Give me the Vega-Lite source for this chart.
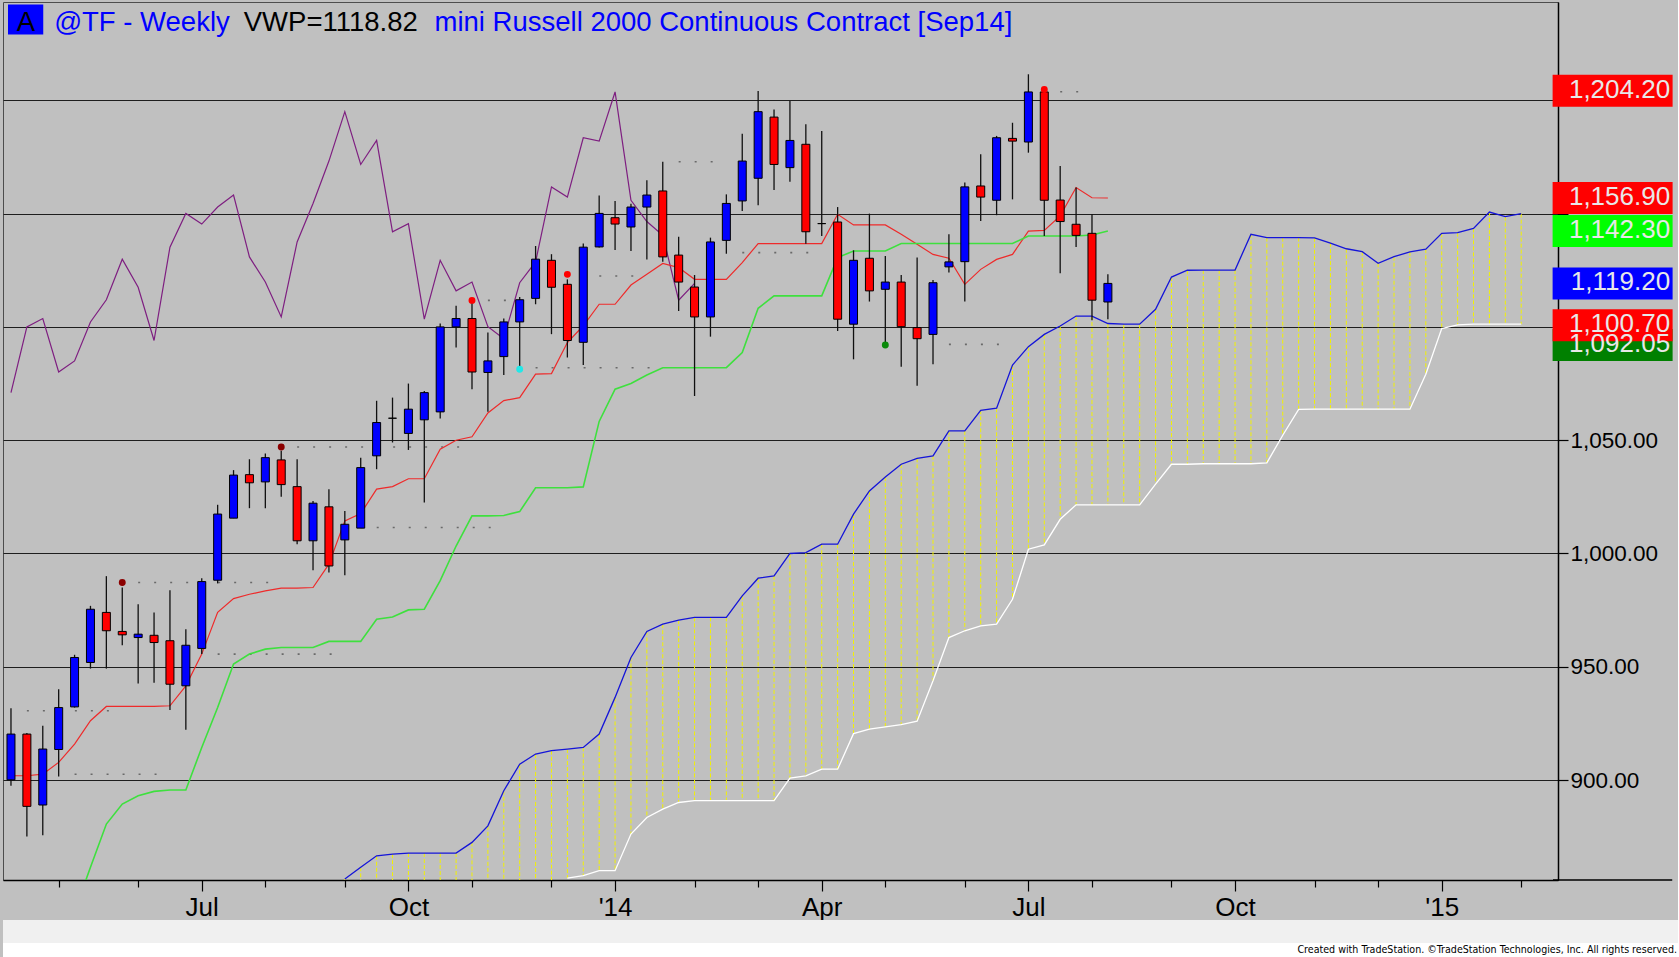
{
  "$schema": "https://vega.github.io/schema/vega-lite/v6.json",
  "background": "#C0C0C0",
  "padding": {"left": 2, "top": 1, "right": 0, "bottom": 0},
  "bounds": "flush",
  "spacing": 40,
  "config": {
    "font": "Liberation Sans",
    "view": {"stroke": null},
    "axis": {"labelFont": "Liberation Sans", "titleFont": "Liberation Sans"},
    "text": {"font": "Liberation Sans"}
  },
  "datasets": {
    "bars": [
      {"date": "2013-04-12", "open": 900.1, "high": 931.7, "low": 897.5, "close": 920.3},
      {"date": "2013-04-19", "open": 920.3, "high": 920.8, "low": 875.1, "close": 888.4},
      {"date": "2013-04-26", "open": 889.0, "high": 924.0, "low": 875.7, "close": 913.7},
      {"date": "2013-05-03", "open": 913.5, "high": 940.1, "low": 901.6, "close": 932.0},
      {"date": "2013-05-10", "open": 932.3, "high": 955.3, "low": 932.0, "close": 954.1},
      {"date": "2013-05-17", "open": 951.9, "high": 976.9, "low": 949.2, "close": 975.4},
      {"date": "2013-05-24", "open": 974.0, "high": 990.0, "low": 949.2, "close": 965.9},
      {"date": "2013-05-31", "open": 965.6, "high": 985.0, "low": 959.5, "close": 964.1},
      {"date": "2013-06-07", "open": 962.9, "high": 977.6, "low": 942.6, "close": 964.4},
      {"date": "2013-06-14", "open": 963.9, "high": 974.0, "low": 942.9, "close": 960.7},
      {"date": "2013-06-21", "open": 961.5, "high": 983.8, "low": 930.9, "close": 942.3},
      {"date": "2013-06-28", "open": 941.6, "high": 966.6, "low": 922.2, "close": 959.5},
      {"date": "2013-07-05", "open": 958.1, "high": 989.1, "low": 955.6, "close": 987.6},
      {"date": "2013-07-12", "open": 988.2, "high": 1021.5, "low": 986.8, "close": 1017.4},
      {"date": "2013-07-19", "open": 1015.6, "high": 1036.8, "low": 1015.6, "close": 1034.6},
      {"date": "2013-07-26", "open": 1034.8, "high": 1041.6, "low": 1020.0, "close": 1031.2},
      {"date": "2013-08-02", "open": 1031.6, "high": 1044.1, "low": 1020.0, "close": 1042.3},
      {"date": "2013-08-09", "open": 1041.3, "high": 1045.3, "low": 1025.0, "close": 1030.4},
      {"date": "2013-08-16", "open": 1029.5, "high": 1041.6, "low": 1004.1, "close": 1005.6},
      {"date": "2013-08-23", "open": 1005.6, "high": 1023.2, "low": 992.6, "close": 1022.2},
      {"date": "2013-08-30", "open": 1020.6, "high": 1028.4, "low": 991.6, "close": 994.5},
      {"date": "2013-09-06", "open": 1006.0, "high": 1018.8, "low": 990.4, "close": 1012.9},
      {"date": "2013-09-13", "open": 1011.2, "high": 1042.3, "low": 1011.2, "close": 1037.9},
      {"date": "2013-09-20", "open": 1043.1, "high": 1067.4, "low": 1037.2, "close": 1057.8},
      {"date": "2013-09-27", "open": 1059.7, "high": 1068.8, "low": 1049.0, "close": 1059.7},
      {"date": "2013-10-04", "open": 1053.0, "high": 1075.0, "low": 1045.7, "close": 1063.7},
      {"date": "2013-10-11", "open": 1059.0, "high": 1071.7, "low": 1022.5, "close": 1071.0},
      {"date": "2013-10-18", "open": 1062.5, "high": 1101.5, "low": 1059.6, "close": 1100.0},
      {"date": "2013-10-25", "open": 1100.0, "high": 1109.3, "low": 1090.9, "close": 1103.7},
      {"date": "2013-11-01", "open": 1103.7, "high": 1110.7, "low": 1072.5, "close": 1080.1},
      {"date": "2013-11-08", "open": 1079.9, "high": 1097.5, "low": 1062.6, "close": 1085.0},
      {"date": "2013-11-15", "open": 1086.9, "high": 1103.7, "low": 1078.8, "close": 1102.2},
      {"date": "2013-11-22", "open": 1102.2, "high": 1113.2, "low": 1082.5, "close": 1112.0},
      {"date": "2013-11-29", "open": 1112.6, "high": 1135.7, "low": 1110.0, "close": 1129.9},
      {"date": "2013-12-06", "open": 1129.4, "high": 1132.1, "low": 1096.8, "close": 1117.5},
      {"date": "2013-12-13", "open": 1118.8, "high": 1121.0, "low": 1086.5, "close": 1094.0},
      {"date": "2013-12-20", "open": 1093.2, "high": 1136.8, "low": 1083.2, "close": 1135.2},
      {"date": "2013-12-27", "open": 1135.3, "high": 1158.0, "low": 1135.0, "close": 1150.1},
      {"date": "2014-01-03", "open": 1148.2, "high": 1155.6, "low": 1134.0, "close": 1145.4},
      {"date": "2014-01-10", "open": 1144.1, "high": 1154.4, "low": 1133.5, "close": 1152.9},
      {"date": "2014-01-17", "open": 1152.9, "high": 1164.7, "low": 1129.8, "close": 1158.2},
      {"date": "2014-01-24", "open": 1160.0, "high": 1172.9, "low": 1128.8, "close": 1130.9},
      {"date": "2014-01-31", "open": 1131.7, "high": 1139.8, "low": 1107.0, "close": 1119.8},
      {"date": "2014-02-07", "open": 1117.6, "high": 1122.9, "low": 1069.5, "close": 1104.4},
      {"date": "2014-02-14", "open": 1104.4, "high": 1139.4, "low": 1095.7, "close": 1137.5},
      {"date": "2014-02-21", "open": 1138.2, "high": 1158.5, "low": 1132.3, "close": 1154.5},
      {"date": "2014-02-28", "open": 1155.6, "high": 1185.3, "low": 1151.2, "close": 1173.2},
      {"date": "2014-03-07", "open": 1165.6, "high": 1204.1, "low": 1153.7, "close": 1195.0},
      {"date": "2014-03-14", "open": 1192.6, "high": 1196.0, "low": 1160.4, "close": 1171.7},
      {"date": "2014-03-21", "open": 1170.3, "high": 1199.7, "low": 1164.1, "close": 1182.3},
      {"date": "2014-03-28", "open": 1180.6, "high": 1189.4, "low": 1136.7, "close": 1142.0},
      {"date": "2014-04-04", "open": 1145.6, "high": 1186.5, "low": 1140.1, "close": 1145.6},
      {"date": "2014-04-11", "open": 1146.3, "high": 1152.9, "low": 1098.2, "close": 1103.4},
      {"date": "2014-04-18", "open": 1101.2, "high": 1133.8, "low": 1085.7, "close": 1129.4},
      {"date": "2014-04-25", "open": 1130.3, "high": 1150.0, "low": 1111.2, "close": 1115.9},
      {"date": "2014-05-02", "open": 1116.6, "high": 1131.3, "low": 1093.1, "close": 1119.8},
      {"date": "2014-05-09", "open": 1119.8, "high": 1122.9, "low": 1082.4, "close": 1100.1},
      {"date": "2014-05-16", "open": 1099.7, "high": 1130.6, "low": 1074.0, "close": 1094.8},
      {"date": "2014-05-23", "open": 1096.7, "high": 1120.7, "low": 1083.5, "close": 1119.5},
      {"date": "2014-05-30", "open": 1126.5, "high": 1140.9, "low": 1124.0, "close": 1128.7},
      {"date": "2014-06-06", "open": 1128.8, "high": 1163.7, "low": 1111.2, "close": 1161.8},
      {"date": "2014-06-13", "open": 1162.2, "high": 1176.2, "low": 1146.8, "close": 1157.3},
      {"date": "2014-06-20", "open": 1155.9, "high": 1184.3, "low": 1149.3, "close": 1183.5},
      {"date": "2014-06-27", "open": 1183.2, "high": 1190.1, "low": 1156.3, "close": 1182.0},
      {"date": "2014-07-04", "open": 1181.6, "high": 1211.5, "low": 1176.9, "close": 1203.7},
      {"date": "2014-07-11", "open": 1203.7, "high": 1204.8, "low": 1140.1, "close": 1155.9},
      {"date": "2014-07-18", "open": 1156.0, "high": 1171.0, "low": 1123.7, "close": 1146.5},
      {"date": "2014-07-25", "open": 1145.3, "high": 1161.5, "low": 1135.3, "close": 1140.4},
      {"date": "2014-08-01", "open": 1141.3, "high": 1149.7, "low": 1102.9, "close": 1111.8},
      {"date": "2014-08-08", "open": 1111.0, "high": 1123.2, "low": 1103.4, "close": 1119.2}
    ],
    "lagging": [
      {"date": "2013-04-12", "lag": 1071.0}, {"date": "2013-04-19", "lag": 1100.0},
      {"date": "2013-04-26", "lag": 1103.7}, {"date": "2013-05-03", "lag": 1080.1},
      {"date": "2013-05-10", "lag": 1085.0}, {"date": "2013-05-17", "lag": 1102.2},
      {"date": "2013-05-24", "lag": 1112.0}, {"date": "2013-05-31", "lag": 1129.9},
      {"date": "2013-06-07", "lag": 1117.5}, {"date": "2013-06-14", "lag": 1094.0},
      {"date": "2013-06-21", "lag": 1135.2}, {"date": "2013-06-28", "lag": 1150.1},
      {"date": "2013-07-05", "lag": 1145.4}, {"date": "2013-07-12", "lag": 1152.9},
      {"date": "2013-07-19", "lag": 1158.2}, {"date": "2013-07-26", "lag": 1130.9},
      {"date": "2013-08-02", "lag": 1119.8}, {"date": "2013-08-09", "lag": 1104.4},
      {"date": "2013-08-16", "lag": 1137.5}, {"date": "2013-08-23", "lag": 1154.5},
      {"date": "2013-08-30", "lag": 1173.2}, {"date": "2013-09-06", "lag": 1195.0},
      {"date": "2013-09-13", "lag": 1171.7}, {"date": "2013-09-20", "lag": 1182.3},
      {"date": "2013-09-27", "lag": 1142.0}, {"date": "2013-10-04", "lag": 1145.6},
      {"date": "2013-10-11", "lag": 1103.4}, {"date": "2013-10-18", "lag": 1129.4},
      {"date": "2013-10-25", "lag": 1115.9}, {"date": "2013-11-01", "lag": 1119.8},
      {"date": "2013-11-08", "lag": 1100.1}, {"date": "2013-11-15", "lag": 1094.8},
      {"date": "2013-11-22", "lag": 1119.5}, {"date": "2013-11-29", "lag": 1128.7},
      {"date": "2013-12-06", "lag": 1161.8}, {"date": "2013-12-13", "lag": 1157.3},
      {"date": "2013-12-20", "lag": 1183.5}, {"date": "2013-12-27", "lag": 1182.0},
      {"date": "2014-01-03", "lag": 1203.7}, {"date": "2014-01-10", "lag": 1155.9},
      {"date": "2014-01-17", "lag": 1146.5}, {"date": "2014-01-24", "lag": 1140.4},
      {"date": "2014-01-31", "lag": 1111.8}, {"date": "2014-02-07", "lag": 1119.2}
    ],
    "lines": [
      {"date": "2013-04-12", "tenkan": 901.9}, {"date": "2013-04-19", "tenkan": 901.9},
      {"date": "2013-04-26", "tenkan": 902.6}, {"date": "2013-05-03", "tenkan": 907.8},
      {"date": "2013-05-10", "tenkan": 915.9, "kijun": 842.0},
      {"date": "2013-05-17", "tenkan": 926.2, "kijun": 861.5},
      {"date": "2013-05-24", "tenkan": 932.5, "kijun": 880.6},
      {"date": "2013-05-31", "tenkan": 932.5, "kijun": 889.4},
      {"date": "2013-06-07", "tenkan": 932.5, "kijun": 893.1},
      {"date": "2013-06-14", "tenkan": 932.5, "kijun": 895.0},
      {"date": "2013-06-21", "tenkan": 932.8, "kijun": 895.6},
      {"date": "2013-06-28", "tenkan": 941.6, "kijun": 895.6},
      {"date": "2013-07-05", "tenkan": 955.6, "kijun": 914.4},
      {"date": "2013-07-12", "tenkan": 974.0, "kijun": 932.0},
      {"date": "2013-07-19", "tenkan": 980.1, "kijun": 951.2},
      {"date": "2013-07-26", "tenkan": 982.0, "kijun": 955.6},
      {"date": "2013-08-02", "tenkan": 983.5, "kijun": 957.8},
      {"date": "2013-08-09", "tenkan": 984.7, "kijun": 958.5},
      {"date": "2013-08-16", "tenkan": 984.7, "kijun": 958.5},
      {"date": "2013-08-23", "tenkan": 985.0, "kijun": 958.5},
      {"date": "2013-08-30", "tenkan": 995.3, "kijun": 961.2},
      {"date": "2013-09-06", "tenkan": 1014.4, "kijun": 961.2},
      {"date": "2013-09-13", "tenkan": 1017.6, "kijun": 961.2},
      {"date": "2013-09-20", "tenkan": 1028.4, "kijun": 971.0},
      {"date": "2013-09-27", "tenkan": 1029.5, "kijun": 972.0},
      {"date": "2013-10-04", "tenkan": 1033.0, "kijun": 975.1},
      {"date": "2013-10-11", "tenkan": 1033.0, "kijun": 975.4},
      {"date": "2013-10-18", "tenkan": 1046.0, "kijun": 988.0},
      {"date": "2013-10-25", "tenkan": 1050.0, "kijun": 1003.3},
      {"date": "2013-11-01", "tenkan": 1051.5, "kijun": 1016.6},
      {"date": "2013-11-08", "tenkan": 1062.0, "kijun": 1016.6},
      {"date": "2013-11-15", "tenkan": 1067.5, "kijun": 1016.8},
      {"date": "2013-11-22", "tenkan": 1068.8, "kijun": 1018.5},
      {"date": "2013-11-29", "tenkan": 1079.2, "kijun": 1029.0},
      {"date": "2013-12-06", "tenkan": 1079.4, "kijun": 1029.0},
      {"date": "2013-12-13", "tenkan": 1093.1, "kijun": 1029.0},
      {"date": "2013-12-20", "tenkan": 1100.5, "kijun": 1029.4},
      {"date": "2013-12-27", "tenkan": 1110.0, "kijun": 1058.3},
      {"date": "2014-01-03", "tenkan": 1110.0, "kijun": 1072.5},
      {"date": "2014-01-10", "tenkan": 1118.5, "kijun": 1075.0},
      {"date": "2014-01-17", "tenkan": 1123.2, "kijun": 1078.8},
      {"date": "2014-01-24", "tenkan": 1128.0, "kijun": 1082.0},
      {"date": "2014-01-31", "tenkan": 1126.2, "kijun": 1082.0},
      {"date": "2014-02-07", "tenkan": 1121.0, "kijun": 1082.0},
      {"date": "2014-02-14", "tenkan": 1121.0, "kijun": 1082.0},
      {"date": "2014-02-21", "tenkan": 1121.0, "kijun": 1082.0},
      {"date": "2014-02-28", "tenkan": 1128.4, "kijun": 1088.7},
      {"date": "2014-03-07", "tenkan": 1136.8, "kijun": 1108.2},
      {"date": "2014-03-14", "tenkan": 1136.8, "kijun": 1113.7},
      {"date": "2014-03-21", "tenkan": 1136.8, "kijun": 1113.7},
      {"date": "2014-03-28", "tenkan": 1136.8, "kijun": 1113.7},
      {"date": "2014-04-04", "tenkan": 1136.8, "kijun": 1113.7},
      {"date": "2014-04-11", "tenkan": 1149.7, "kijun": 1130.6},
      {"date": "2014-04-18", "tenkan": 1145.0, "kijun": 1133.5},
      {"date": "2014-04-25", "tenkan": 1145.0, "kijun": 1133.5},
      {"date": "2014-05-02", "tenkan": 1145.0, "kijun": 1133.5},
      {"date": "2014-05-09", "tenkan": 1140.9, "kijun": 1136.8},
      {"date": "2014-05-16", "tenkan": 1136.5, "kijun": 1136.8},
      {"date": "2014-05-23", "tenkan": 1132.0, "kijun": 1136.8},
      {"date": "2014-05-30", "tenkan": 1130.3, "kijun": 1136.8},
      {"date": "2014-06-06", "tenkan": 1118.8, "kijun": 1136.8},
      {"date": "2014-06-13", "tenkan": 1125.4, "kijun": 1136.8},
      {"date": "2014-06-20", "tenkan": 1129.8, "kijun": 1136.8},
      {"date": "2014-06-27", "tenkan": 1132.0, "kijun": 1136.8},
      {"date": "2014-07-04", "tenkan": 1142.3, "kijun": 1140.1},
      {"date": "2014-07-11", "tenkan": 1142.6, "kijun": 1140.1},
      {"date": "2014-07-18", "tenkan": 1149.0, "kijun": 1140.1},
      {"date": "2014-07-25", "tenkan": 1161.5, "kijun": 1140.1},
      {"date": "2014-08-01", "tenkan": 1157.0, "kijun": 1140.6},
      {"date": "2014-08-08", "tenkan": 1156.9, "kijun": 1142.3}
    ],
    "cloud": [
      {"date": "2013-09-06", "spanA": 856.3}, {"date": "2013-09-13", "spanA": 861.5},
      {"date": "2013-09-20", "spanA": 866.6}, {"date": "2013-09-27", "spanA": 867.3},
      {"date": "2013-10-04", "spanA": 867.8}, {"date": "2013-10-11", "spanA": 867.8},
      {"date": "2013-10-18", "spanA": 867.8}, {"date": "2013-10-25", "spanA": 867.8},
      {"date": "2013-11-01", "spanA": 872.5}, {"date": "2013-11-08", "spanA": 879.8},
      {"date": "2013-11-15", "spanA": 895.3}, {"date": "2013-11-22", "spanA": 907.0},
      {"date": "2013-11-29", "spanA": 911.5}, {"date": "2013-12-06", "spanA": 913.0},
      {"date": "2013-12-13", "spanA": 913.7, "spanB": 856.7},
      {"date": "2013-12-20", "spanA": 914.4, "spanB": 857.8},
      {"date": "2013-12-27", "spanA": 920.3, "spanB": 860.0},
      {"date": "2014-01-03", "spanA": 936.5, "spanB": 860.0},
      {"date": "2014-01-10", "spanA": 954.1, "spanB": 876.2},
      {"date": "2014-01-17", "spanA": 965.6, "spanB": 883.5},
      {"date": "2014-01-24", "spanA": 968.8, "spanB": 887.2},
      {"date": "2014-01-31", "spanA": 970.6, "spanB": 890.1},
      {"date": "2014-02-07", "spanA": 971.8, "spanB": 890.9},
      {"date": "2014-02-14", "spanA": 971.8, "spanB": 890.9},
      {"date": "2014-02-21", "spanA": 971.8, "spanB": 890.9},
      {"date": "2014-02-28", "spanA": 981.3, "spanB": 890.9},
      {"date": "2014-03-07", "spanA": 989.1, "spanB": 890.9},
      {"date": "2014-03-14", "spanA": 990.1, "spanB": 890.9},
      {"date": "2014-03-21", "spanA": 1000.0, "spanB": 900.9},
      {"date": "2014-03-28", "spanA": 1000.4, "spanB": 901.9},
      {"date": "2014-04-04", "spanA": 1004.1, "spanB": 904.8},
      {"date": "2014-04-11", "spanA": 1004.1, "spanB": 904.8},
      {"date": "2014-04-18", "spanA": 1017.4, "spanB": 920.5},
      {"date": "2014-04-25", "spanA": 1027.6, "spanB": 922.5},
      {"date": "2014-05-02", "spanA": 1033.8, "spanB": 923.5},
      {"date": "2014-05-09", "spanA": 1039.4, "spanB": 924.5},
      {"date": "2014-05-16", "spanA": 1042.0, "spanB": 926.0},
      {"date": "2014-05-23", "spanA": 1043.1, "spanB": 943.8},
      {"date": "2014-05-30", "spanA": 1054.1, "spanB": 962.9},
      {"date": "2014-06-06", "spanA": 1054.1, "spanB": 965.9},
      {"date": "2014-06-13", "spanA": 1063.2, "spanB": 968.1},
      {"date": "2014-06-20", "spanA": 1064.1, "spanB": 968.8},
      {"date": "2014-06-27", "spanA": 1083.2, "spanB": 979.8},
      {"date": "2014-07-04", "spanA": 1091.3, "spanB": 1001.9},
      {"date": "2014-07-11", "spanA": 1096.7, "spanB": 1003.8},
      {"date": "2014-07-18", "spanA": 1100.4, "spanB": 1015.1},
      {"date": "2014-07-25", "spanA": 1104.8, "spanB": 1021.5},
      {"date": "2014-08-01", "spanA": 1104.8, "spanB": 1021.5},
      {"date": "2014-08-08", "spanA": 1101.5, "spanB": 1021.5},
      {"date": "2014-08-15", "spanA": 1101.2, "spanB": 1021.5},
      {"date": "2014-08-22", "spanA": 1101.2, "spanB": 1021.5},
      {"date": "2014-08-29", "spanA": 1107.8, "spanB": 1030.6},
      {"date": "2014-09-05", "spanA": 1122.0, "spanB": 1039.4},
      {"date": "2014-09-12", "spanA": 1125.0, "spanB": 1039.4},
      {"date": "2014-09-19", "spanA": 1125.1, "spanB": 1039.6},
      {"date": "2014-09-26", "spanA": 1125.1, "spanB": 1039.6},
      {"date": "2014-10-03", "spanA": 1125.1, "spanB": 1039.6},
      {"date": "2014-10-10", "spanA": 1140.9, "spanB": 1039.6},
      {"date": "2014-10-17", "spanA": 1139.4, "spanB": 1040.0},
      {"date": "2014-10-24", "spanA": 1139.4, "spanB": 1052.2},
      {"date": "2014-10-31", "spanA": 1139.4, "spanB": 1063.6},
      {"date": "2014-11-07", "spanA": 1139.3, "spanB": 1063.7},
      {"date": "2014-11-14", "spanA": 1137.0, "spanB": 1063.7},
      {"date": "2014-11-21", "spanA": 1134.5, "spanB": 1063.7},
      {"date": "2014-11-28", "spanA": 1133.2, "spanB": 1063.7},
      {"date": "2014-12-05", "spanA": 1128.1, "spanB": 1063.7},
      {"date": "2014-12-12", "spanA": 1131.0, "spanB": 1063.7},
      {"date": "2014-12-19", "spanA": 1133.1, "spanB": 1063.7},
      {"date": "2014-12-26", "spanA": 1134.3, "spanB": 1079.1},
      {"date": "2015-01-02", "spanA": 1141.3, "spanB": 1099.3},
      {"date": "2015-01-09", "spanA": 1141.6, "spanB": 1100.9},
      {"date": "2015-01-16", "spanA": 1143.5, "spanB": 1101.2},
      {"date": "2015-01-23", "spanA": 1150.7, "spanB": 1101.2},
      {"date": "2015-01-30", "spanA": 1148.7, "spanB": 1101.2},
      {"date": "2015-02-06", "spanA": 1150.0, "spanB": 1101.2}
    ],
    "signals": [
      {"date": "2013-05-31", "price": 987.2, "kind": "swing"},
      {"date": "2013-08-09", "price": 1047.0, "kind": "swing"},
      {"date": "2013-11-01", "price": 1111.7, "kind": "high"},
      {"date": "2013-11-22", "price": 1081.3, "kind": "low"},
      {"date": "2013-12-13", "price": 1123.2, "kind": "high"},
      {"date": "2014-05-02", "price": 1092.0, "kind": "support"},
      {"date": "2014-07-11", "price": 1204.8, "kind": "high"}
    ],
    "levels": [
      {"start": "2013-04-19", "end": "2013-05-31", "level": 930.6},
      {"start": "2013-05-10", "end": "2013-06-21", "level": 902.6},
      {"start": "2013-06-07", "end": "2013-08-09", "level": 987.2},
      {"start": "2013-07-12", "end": "2013-09-06", "level": 955.6},
      {"start": "2013-08-16", "end": "2013-11-01", "level": 1047.0},
      {"start": "2013-09-13", "end": "2013-11-15", "level": 1011.5},
      {"start": "2013-11-08", "end": "2013-11-22", "level": 1111.7},
      {"start": "2013-11-29", "end": "2014-01-24", "level": 1082.0},
      {"start": "2013-12-20", "end": "2014-01-17", "level": 1122.5},
      {"start": "2014-01-31", "end": "2014-02-21", "level": 1172.9},
      {"start": "2014-02-28", "end": "2014-04-04", "level": 1132.8},
      {"start": "2014-05-30", "end": "2014-06-27", "level": 1092.3},
      {"start": "2014-07-18", "end": "2014-08-01", "level": 1203.8}
    ],
    "last": [
      {"series": "marker high", "value": 1204.2},
      {"series": "tenkan", "value": 1156.9},
      {"series": "kijun", "value": 1142.3},
      {"series": "close", "value": 1119.2},
      {"series": "marker low", "value": 1092.05},
      {"series": "span", "value": 1100.7}
    ]
  },
  "vconcat": [
    {
      "width": 1555,
      "height": 878,
      "view": {"stroke": "#4D4D4D", "strokeWidth": 1},
      "resolve": {
        "axis": {"x": "independent", "y": "independent"},
        "scale": {"color": "independent"}
      },
      "layer": [
        {
          "data": {"name": "cloud"},
          "transform": [{"filter": "isValid(datum.spanB)"}],
          "mark": {"type": "rule", "color": "#F2F200", "strokeWidth": 1, "strokeDash": [4, 2], "clip": true},
          "encoding": {
            "x": {"field": "date", "type": "temporal", "axis": null,
                  "scale": {"type": "utc", "nice": false, "domain": [{"year": 2013, "month": 4, "date": 10, "hours": 16, "minutes": 30, "utc": true}, {"year": 2015, "month": 2, "date": 20, "utc": true}]}},
            "y": {"field": "spanA", "type": "quantitative", "axis": null,
                  "scale": {"domain": [855.9, 1243.4], "nice": false, "zero": false}},
            "y2": {"field": "spanB"}
          }
        },
        {
          "data": {"name": "cloud"},
          "transform": [{"filter": "!isValid(datum.spanB)"}],
          "mark": {"type": "rule", "color": "#F2F200", "strokeWidth": 1, "strokeDash": [4, 2], "clip": true},
          "encoding": {
            "x": {"field": "date", "type": "temporal", "axis": null,
                  "scale": {"type": "utc", "nice": false, "domain": [{"year": 2013, "month": 4, "date": 10, "hours": 16, "minutes": 30, "utc": true}, {"year": 2015, "month": 2, "date": 20, "utc": true}]}},
            "y": {"field": "spanA", "type": "quantitative", "axis": null,
                  "scale": {"domain": [855.9, 1243.4], "nice": false, "zero": false}},
            "y2": {"datum": 850}
          }
        },
        {
          "data": {"name": "cloud"},
          "mark": {"type": "line", "color": "#1414D8", "strokeWidth": 1.3, "clip": true},
          "encoding": {
            "x": {"field": "date", "type": "temporal", "axis": null,
                  "scale": {"type": "utc", "nice": false, "domain": [{"year": 2013, "month": 4, "date": 10, "hours": 16, "minutes": 30, "utc": true}, {"year": 2015, "month": 2, "date": 20, "utc": true}]}},
            "y": {"field": "spanA", "type": "quantitative", "axis": null,
                  "scale": {"domain": [855.9, 1243.4], "nice": false, "zero": false}}
          }
        },
        {
          "data": {"name": "cloud"},
          "transform": [{"filter": "isValid(datum.spanB)"}],
          "mark": {"type": "line", "color": "#FFFFFF", "strokeWidth": 1.3, "clip": true},
          "encoding": {
            "x": {"field": "date", "type": "temporal", "axis": null,
                  "scale": {"type": "utc", "nice": false, "domain": [{"year": 2013, "month": 4, "date": 10, "hours": 16, "minutes": 30, "utc": true}, {"year": 2015, "month": 2, "date": 20, "utc": true}]}},
            "y": {"field": "spanB", "type": "quantitative", "axis": null,
                  "scale": {"domain": [855.9, 1243.4], "nice": false, "zero": false}}
          }
        },
        {
          "data": {"name": "levels"},
          "mark": {"type": "rule", "color": "#6A6A6A", "strokeWidth": 1.6, "strokeDash": [2, 14], "clip": true},
          "encoding": {
            "x": {"field": "start", "type": "temporal", "axis": null,
                  "scale": {"type": "utc", "nice": false, "domain": [{"year": 2013, "month": 4, "date": 10, "hours": 16, "minutes": 30, "utc": true}, {"year": 2015, "month": 2, "date": 20, "utc": true}]}},
            "x2": {"field": "end"},
            "y": {"field": "level", "type": "quantitative", "axis": null,
                  "scale": {"domain": [855.9, 1243.4], "nice": false, "zero": false}}
          }
        },
        {
          "data": {"name": "lagging"},
          "mark": {"type": "line", "color": "#7E1E80", "strokeWidth": 1.2, "clip": true},
          "encoding": {
            "x": {"field": "date", "type": "temporal", "axis": null,
                  "scale": {"type": "utc", "nice": false, "domain": [{"year": 2013, "month": 4, "date": 10, "hours": 16, "minutes": 30, "utc": true}, {"year": 2015, "month": 2, "date": 20, "utc": true}]}},
            "y": {"field": "lag", "type": "quantitative", "axis": null,
                  "scale": {"domain": [855.9, 1243.4], "nice": false, "zero": false}}
          }
        },
        {
          "data": {"name": "lines"},
          "mark": {"type": "line", "color": "#EE2A2A", "strokeWidth": 1.2, "clip": true},
          "encoding": {
            "x": {"field": "date", "type": "temporal", "axis": null,
                  "scale": {"type": "utc", "nice": false, "domain": [{"year": 2013, "month": 4, "date": 10, "hours": 16, "minutes": 30, "utc": true}, {"year": 2015, "month": 2, "date": 20, "utc": true}]}},
            "y": {"field": "tenkan", "type": "quantitative", "axis": null,
                  "scale": {"domain": [855.9, 1243.4], "nice": false, "zero": false}}
          }
        },
        {
          "data": {"name": "lines"},
          "transform": [{"filter": "isValid(datum.kijun)"}],
          "mark": {"type": "line", "color": "#3EE03E", "strokeWidth": 1.6, "clip": true},
          "encoding": {
            "x": {"field": "date", "type": "temporal", "axis": null,
                  "scale": {"type": "utc", "nice": false, "domain": [{"year": 2013, "month": 4, "date": 10, "hours": 16, "minutes": 30, "utc": true}, {"year": 2015, "month": 2, "date": 20, "utc": true}]}},
            "y": {"field": "kijun", "type": "quantitative", "axis": null,
                  "scale": {"domain": [855.9, 1243.4], "nice": false, "zero": false}}
          }
        },
        {
          "data": {"name": "bars"},
          "mark": {"type": "rule", "color": "#101010", "strokeWidth": 1.3, "clip": true},
          "encoding": {
            "x": {"field": "date", "type": "temporal",
                  "scale": {"type": "utc", "nice": false, "domain": [{"year": 2013, "month": 4, "date": 10, "hours": 16, "minutes": 30, "utc": true}, {"year": 2015, "month": 2, "date": 20, "utc": true}]},
                  "axis": {
                    "orient": "bottom", "title": null, "labels": false, "domain": false, "grid": false,
                    "tickSize": 7, "tickColor": "#000000", "tickWidth": 1.2,
                    "values": [
                      {"year": 2013, "month": 5, "date": 3, "utc": true}, {"year": 2013, "month": 6, "date": 7, "utc": true},
                      {"year": 2013, "month": 8, "date": 2, "utc": true}, {"year": 2013, "month": 9, "date": 6, "utc": true},
                      {"year": 2013, "month": 11, "date": 1, "utc": true}, {"year": 2013, "month": 12, "date": 6, "utc": true},
                      {"year": 2014, "month": 2, "date": 7, "utc": true}, {"year": 2014, "month": 3, "date": 7, "utc": true},
                      {"year": 2014, "month": 5, "date": 2, "utc": true}, {"year": 2014, "month": 6, "date": 6, "utc": true},
                      {"year": 2014, "month": 8, "date": 1, "utc": true}, {"year": 2014, "month": 9, "date": 5, "utc": true},
                      {"year": 2014, "month": 11, "date": 7, "utc": true}, {"year": 2014, "month": 12, "date": 5, "utc": true},
                      {"year": 2015, "month": 2, "date": 6, "utc": true}
                    ]
                  }},
            "y": {"field": "low", "type": "quantitative",
                  "scale": {"domain": [855.9, 1243.4], "nice": false, "zero": false},
                  "axis": {
                    "orient": "right", "title": null, "values": [900, 950, 1000, 1050, 1100, 1150, 1200],
                    "format": ",.2f", "labelExpr": "datum.value >= 1100 ? '' : datum.label",
                    "tickSize": 10, "tickColor": "#000000", "tickWidth": 1.2,
                    "labelPadding": 2, "labelFontSize": 22.5, "labelColor": "#000000",
                    "labelOverlap": false, "labelFlush": false,
                    "domainColor": "#000000", "domainWidth": 1.5,
                    "grid": true, "gridColor": "#1E1E1E", "gridWidth": 1.2
                  }},
            "y2": {"field": "high"}
          }
        },
        {
          "data": {"name": "bars"},
          "mark": {"type": "bar", "size": 8, "stroke": "#000000", "strokeWidth": 1, "clip": true},
          "encoding": {
            "x": {"field": "date", "type": "temporal",
                  "scale": {"type": "utc", "nice": false, "domain": [{"year": 2013, "month": 4, "date": 10, "hours": 16, "minutes": 30, "utc": true}, {"year": 2015, "month": 2, "date": 20, "utc": true}]},
                  "axis": {
                    "orient": "bottom", "title": null, "grid": false,
                    "tickSize": 11, "tickColor": "#000000", "tickWidth": 1.2,
                    "domainColor": "#000000", "domainWidth": 1.5,
                    "labelFontSize": 26, "labelColor": "#000000", "labelPadding": 3,
                    "labelOverlap": false, "labelFlush": false,
                    "labelExpr": "utcFormat(datum.value, '%m') == '01' ? \"'\" + utcFormat(datum.value, '%y') : utcFormat(datum.value, '%b')",
                    "values": [
                      {"year": 2013, "month": 7, "date": 5, "utc": true}, {"year": 2013, "month": 10, "date": 4, "utc": true},
                      {"year": 2014, "month": 1, "date": 3, "utc": true}, {"year": 2014, "month": 4, "date": 4, "utc": true},
                      {"year": 2014, "month": 7, "date": 4, "utc": true}, {"year": 2014, "month": 10, "date": 3, "utc": true},
                      {"year": 2015, "month": 1, "date": 2, "utc": true}
                    ]
                  }},
            "y": {"field": "open", "type": "quantitative", "axis": null,
                  "scale": {"domain": [855.9, 1243.4], "nice": false, "zero": false}},
            "y2": {"field": "close"},
            "color": {
              "condition": [
                {"test": "datum.close > datum.open", "value": "#0000FF"},
                {"test": "datum.close < datum.open", "value": "#FF0000"}
              ],
              "value": "#000000"
            }
          }
        },
        {
          "data": {"name": "signals"},
          "mark": {"type": "point", "shape": "circle", "filled": true, "size": 48, "opacity": 1, "clip": true},
          "encoding": {
            "x": {"field": "date", "type": "temporal", "axis": null,
                  "scale": {"type": "utc", "nice": false, "domain": [{"year": 2013, "month": 4, "date": 10, "hours": 16, "minutes": 30, "utc": true}, {"year": 2015, "month": 2, "date": 20, "utc": true}]}},
            "y": {"field": "price", "type": "quantitative", "axis": null,
                  "scale": {"domain": [855.9, 1243.4], "nice": false, "zero": false}},
            "color": {"field": "kind", "type": "nominal", "legend": null,
                      "scale": {"domain": ["swing", "high", "low", "support"], "range": ["#8B0000", "#FF0000", "#22E8E8", "#0A8A0A"]}}
          }
        },
        {
          "data": {"values": [{}]},
          "mark": {"type": "rule", "color": "#000000", "strokeWidth": 1.5, "clip": false},
          "encoding": {
            "x": {"datum": {"year": 2015, "month": 2, "date": 20, "utc": true}, "type": "temporal", "axis": null},
            "x2": {"datum": {"year": 2015, "month": 4, "date": 13, "hours": 12, "utc": true}},
            "y": {"datum": 855.9, "type": "quantitative", "axis": null}
          }
        },
        {
          "data": {"values": [{}]},
          "mark": {"type": "rect", "color": "#0000FF"},
          "encoding": {
            "x": {"datum": {"year": 2013, "month": 4, "date": 10, "hours": 16, "minutes": 30, "utc": true}, "type": "temporal", "axis": null},
            "x2": {"datum": {"year": 2013, "month": 4, "date": 26, "hours": 5, "utc": true}},
            "y": {"datum": 1242.3, "type": "quantitative", "axis": null},
            "y2": {"datum": 1229.1}
          }
        },
        {
          "data": {"values": [{}]},
          "mark": {"type": "text", "text": "A", "fontSize": 27.5, "color": "#000000", "align": "center", "baseline": "alphabetic"},
          "encoding": {
            "x": {"datum": {"year": 2013, "month": 4, "date": 18, "hours": 14, "utc": true}, "type": "temporal", "axis": null},
            "y": {"datum": 1230.6, "type": "quantitative", "axis": null}
          }
        },
        {
          "data": {"values": [{}]},
          "mark": {"type": "text", "text": "@TF - Weekly", "fontSize": 27.5, "color": "#0000FF", "align": "left", "baseline": "alphabetic"},
          "encoding": {
            "x": {"datum": {"year": 2013, "month": 5, "date": 1, "utc": true}, "type": "temporal", "axis": null},
            "y": {"datum": 1230.6, "type": "quantitative", "axis": null}
          }
        },
        {
          "data": {"values": [{}]},
          "mark": {"type": "text", "text": "VWP=1118.82", "fontSize": 27.5, "color": "#000000", "align": "left", "baseline": "alphabetic"},
          "encoding": {
            "x": {"datum": {"year": 2013, "month": 7, "date": 23, "hours": 12, "utc": true}, "type": "temporal", "axis": null},
            "y": {"datum": 1230.6, "type": "quantitative", "axis": null}
          }
        },
        {
          "data": {"values": [{}]},
          "mark": {"type": "text", "text": "mini Russell 2000 Continuous Contract [Sep14]", "fontSize": 27.5, "color": "#0000FF", "align": "left", "baseline": "alphabetic"},
          "encoding": {
            "x": {"datum": {"year": 2013, "month": 10, "date": 15, "hours": 12, "utc": true}, "type": "temporal", "axis": null},
            "y": {"datum": 1230.6, "type": "quantitative", "axis": null}
          }
        },
        {
          "data": {"name": "last"},
          "mark": {"type": "tick", "orient": "horizontal", "size": 120, "thickness": 32, "opacity": 1, "clip": false},
          "encoding": {
            "x": {"datum": {"year": 2015, "month": 3, "date": 18, "hours": 6, "utc": true}, "type": "temporal", "axis": null},
            "y": {"field": "value", "type": "quantitative", "axis": null},
            "color": {"field": "series", "type": "nominal", "legend": null,
                      "scale": {"domain": ["marker high", "tenkan", "kijun", "close", "marker low", "span"],
                                "range": ["#FF0000", "#FF0000", "#00FF00", "#0000FF", "#008000", "#FF0000"]}}
          }
        },
        {
          "data": {"name": "last"},
          "mark": {"type": "text", "fontSize": 26, "color": "#E8E8E8", "align": "right", "baseline": "middle", "dy": -1, "clip": false},
          "encoding": {
            "x": {"datum": {"year": 2015, "month": 4, "date": 12, "hours": 14, "utc": true}, "type": "temporal", "axis": null},
            "y": {"field": "value", "type": "quantitative", "axis": null},
            "text": {"field": "value", "type": "quantitative", "format": ",.2f"}
          }
        }
      ]
    },
    {
      "spacing": 0,
      "vconcat": [
        {
          "width": 1675,
          "height": 23,
          "view": {"fill": "#F0F0F0", "stroke": null},
          "data": {"values": []},
          "mark": {"type": "point", "opacity": 0}
        },
        {
          "width": 1675,
          "height": 14,
          "view": {"fill": "#FFFFFF", "stroke": null},
          "data": {"values": [{}]},
          "mark": {"type": "text", "align": "right", "baseline": "middle", "dx": -1, "fontSize": 10.6, "font": "Liberation Sans Narrow, DejaVu Sans Condensed, Liberation Sans", "color": "#000000"},
          "encoding": {
            "x": {"datum": 1, "type": "quantitative", "scale": {"domain": [0, 1]}, "axis": null},
            "text": {"value": "Created with TradeStation. ©TradeStation Technologies, Inc. All rights reserved."}
          }
        }
      ]
    }
  ]
}
